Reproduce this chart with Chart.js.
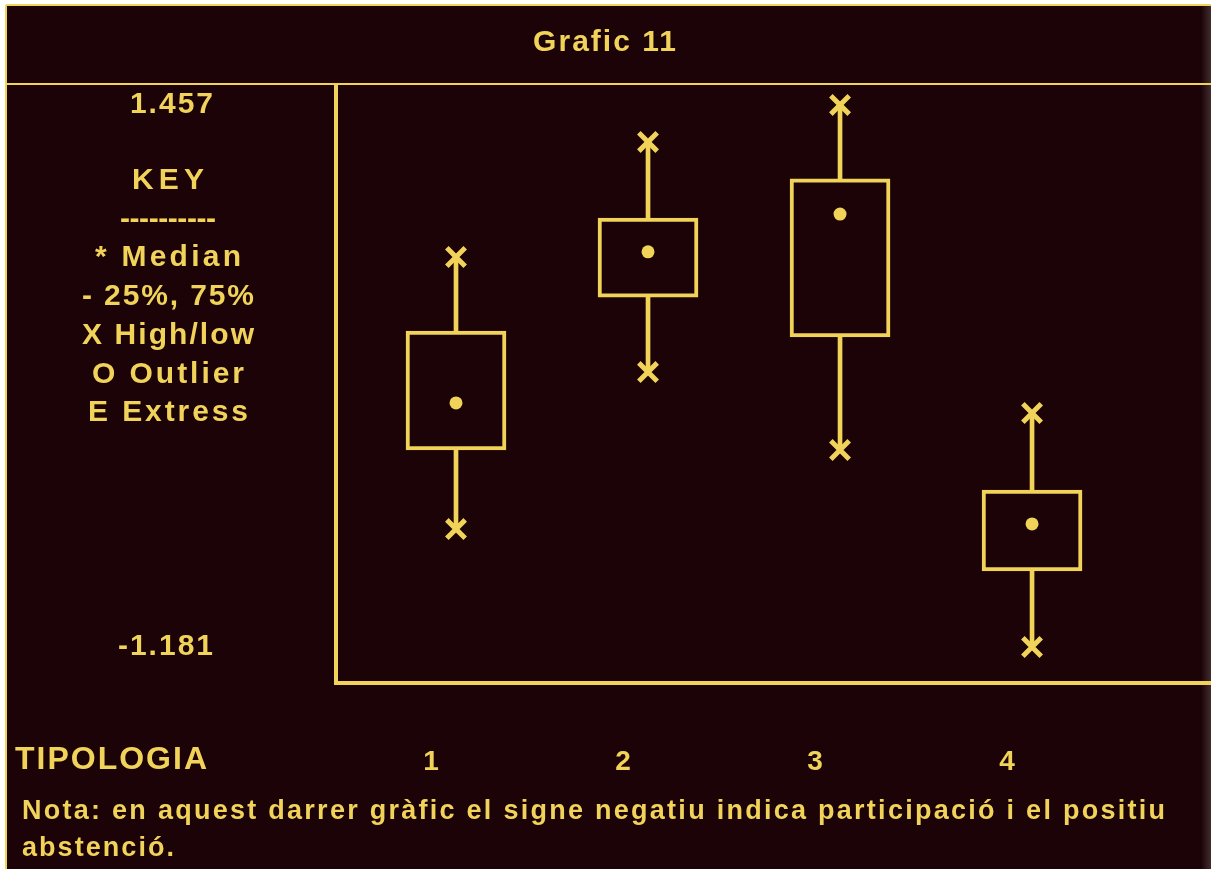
<!DOCTYPE html>
<html>
<head>
<meta charset="utf-8">
<script src="https://cdn.jsdelivr.net/npm/chart.js@4/dist/chart.umd.min.js"></script>
<style>
  html, body { margin: 0; padding: 0; background: #ffffff; overflow: hidden; }
  #wrap { position: absolute; left: 0; top: 0; width: 1211px; height: 869px; overflow: hidden; }
  #c { display: block; }
</style>
</head>
<body>
<div id="wrap"><canvas id="c"></canvas></div>
<script>
// ---- data ----
const categories = [1, 2, 3, 4];
const tickLabels = ['1', '2', '3', '4'];
const highs   = [0.717, 1.277, 1.457, -0.042];
const q3s     = [0.357, 0.907, 1.097, -0.417];
const medians = [0.007, 0.742, 0.926, -0.582];
const q1s     = [-0.222, 0.522, 0.328, -0.811];
const lows    = [-0.607, 0.157, -0.222, -1.181];
const title = 'Grafic 11';
const keyLines = ['KEY', '----------', '* Median', '- 25%, 75%', 'X High/low', 'O Outlier', 'E Extress'];
const xAxisName = 'TIPOLOGIA';
const noteLines = ['Nota: en aquest darrer gràfic el signe negatiu indica participació i el positiu', 'abstenció.'];

// ---- style ----
const BG = '#1b0307';
const YEL = '#f1d35a';
const FONT = '"Liberation Sans", Arial, sans-serif';

const whiskerData = categories.map((c, i) => ({ x: c, y: [lows[i], highs[i]] }));
const boxData = categories.map((c, i) => ({ x: c, y: [q1s[i], q3s[i]] }));
const medianData = categories.map((c, i) => ({ x: c, y: medians[i] }));
const extremeData = categories.flatMap((c, i) => [{ x: c, y: highs[i] }, { x: c, y: lows[i] }]);

function spacedText(ctx, text, x, y, align, targetWidth, size) {
  ctx.save();
  ctx.font = 'bold ' + size + 'px ' + FONT;
  ctx.letterSpacing = '0px';
  const w = ctx.measureText(text).width;
  const n = Math.max(1, text.length - 1);
  const sp = targetWidth ? (targetWidth - w) / n : 0;
  ctx.letterSpacing = sp + 'px';
  const full = w + sp * n;
  let sx = x;
  if (align === 'center') sx = x - full / 2;
  else if (align === 'right') sx = x - full;
  ctx.textAlign = 'left';
  ctx.textBaseline = 'middle';
  ctx.fillStyle = YEL;
  ctx.fillText(text, sx, y);
  ctx.restore();
}

const decor = {
  id: 'decor',
  beforeDraw(chart) {
    const ctx = chart.ctx;
    ctx.save();
    ctx.fillStyle = '#ffffff';
    ctx.fillRect(0, 0, chart.width, chart.height);
    ctx.fillStyle = BG;
    ctx.fillRect(6, 5, chart.width - 6, chart.height - 5);
    const g = ctx.createLinearGradient(chart.width - 10, 0, chart.width, 0);
    g.addColorStop(0, 'rgba(70,50,50,0)');
    g.addColorStop(1, 'rgba(70,50,50,0.9)');
    ctx.fillStyle = g;
    ctx.fillRect(chart.width - 10, 5, 10, chart.height - 5);
    ctx.restore();
    ctx.letterSpacing = '2px';
  },
  afterDraw(chart) {
    const ctx = chart.ctx;
    ctx.save();
    ctx.letterSpacing = '0px';
    ctx.strokeStyle = YEL;
    ctx.lineWidth = 2;
    ctx.beginPath();
    ctx.moveTo(6, 5); ctx.lineTo(chart.width, 5);
    ctx.moveTo(6, 84); ctx.lineTo(chart.width, 84);
    ctx.moveTo(6, 5); ctx.lineTo(6, chart.height);
    ctx.stroke();
    const keyY = [181, 220, 258, 297, 336, 375, 413];
    const keyW = [72, 96, 146, 172, 172, 152, 160];
    keyLines.forEach((t, i) => spacedText(ctx, t, 168, keyY[i], 'center', keyW[i], 30));
    spacedText(ctx, xAxisName, 15, 760, 'left', 192, 32);
    spacedText(ctx, noteLines[0], 22, 812, 'left', 1143, 27);
    spacedText(ctx, noteLines[1], 22, 849, 'left', 152, 27);
    ctx.restore();
  }
};

new Chart(document.getElementById('c'), {
  type: 'bar',
  data: {
    datasets: [
      { type: 'line', data: extremeData, showLine: false, pointStyle: 'crossRot',
        pointRadius: 13, pointBorderWidth: 5, pointBorderColor: YEL, pointBackgroundColor: YEL, order: 0 },
      { type: 'line', data: medianData, showLine: false, pointStyle: 'circle',
        pointRadius: 6.5, pointBorderWidth: 0, pointBackgroundColor: YEL, order: 1 },
      { data: boxData, backgroundColor: BG, borderColor: YEL, borderWidth: 4,
        borderSkipped: false, barThickness: 100, grouped: false, order: 2 },
      { data: whiskerData, backgroundColor: YEL, borderWidth: 0,
        barThickness: 4, grouped: false, order: 3 }
    ]
  },
  plugins: [decor],
  options: {
    responsive: true,
    maintainAspectRatio: false,
    animation: false,
    events: [],
    layout: { padding: 0, autoPadding: false },
    plugins: {
      legend: { display: false },
      tooltip: { enabled: false },
      title: {
        display: true, text: title, color: YEL,
        font: { family: FONT, size: 30, weight: 'bold', lineHeight: 1.2 },
        padding: { top: 25, bottom: 24 }
      }
    },
    scales: {
      x: {
        type: 'linear', min: 0.375, max: 4.932, offset: false,
        grid: { display: false, drawTicks: false },
        border: { display: true, color: YEL, width: 4 },
        afterBuildTicks: s => { s.ticks = categories.map(v => ({ value: v })); },
        afterFit: s => { s.height = 186; s.paddingLeft = 0; s.paddingRight = 0; },
        ticks: {
          color: YEL, padding: 62, labelOffset: -24,
          font: { family: FONT, size: 28, weight: 'bold' },
          callback: (v) => tickLabels[categories.indexOf(v)] ?? ''
        }
      },
      y: {
        type: 'linear', min: -1.356, max: 1.554,
        grid: { display: false, drawTicks: false },
        border: { display: true, color: YEL, width: 4 },
        afterBuildTicks: s => { s.ticks = [{ value: Math.max(...highs) }, { value: Math.min(...lows) }]; },
        afterFit: s => { s.width = 336; s.paddingTop = 0; s.paddingBottom = 0; },
        ticks: {
          color: YEL, padding: 121, crossAlign: 'near',
          font: { family: FONT, size: 30, weight: 'bold' },
          callback: v => v.toFixed(3)
        }
      }
    }
  }
});
</script>
</body>
</html>
